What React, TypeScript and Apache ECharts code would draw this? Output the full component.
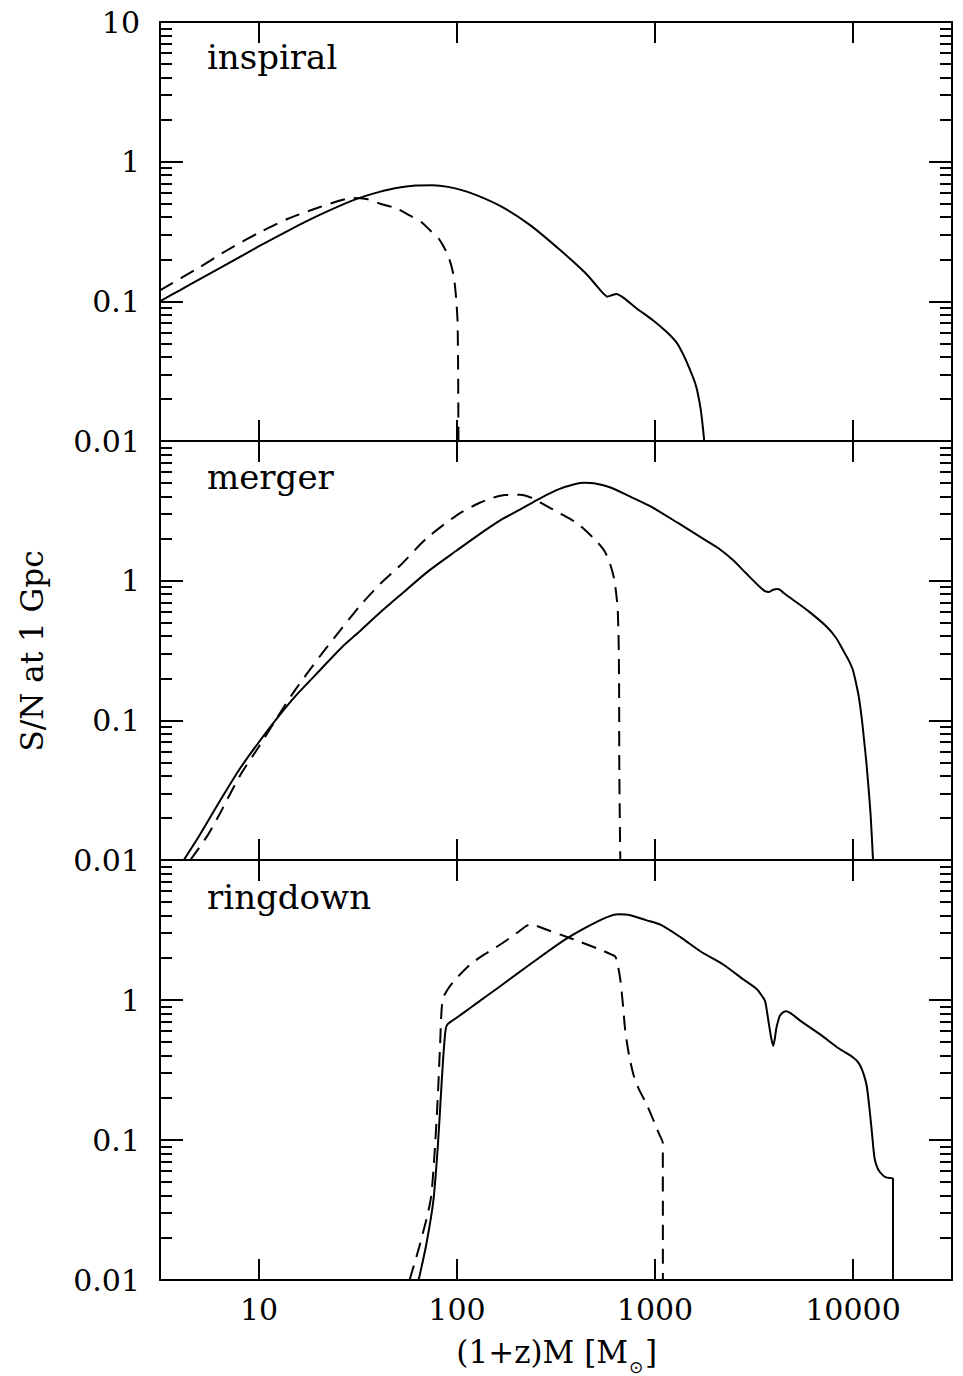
import { useEffect, useRef } from 'react';
import * as echarts from 'echarts';

// ---- axis ranges & tick labels ----
const X_MIN = 3.1623;
const X_MAX = 31623;
const Y_MIN = 0.01;
const Y_MAX = 10;
const xTickLabels = ['10', '100', '1000', '10000'];
const yTickLabels = ['0.01', '0.1', '1', '10'];
const panelNames = ['inspiral', 'merger', 'ringdown'];
const xTitleParts = ['(1+z)M [M', '\u2299', ']'];
const yTitle = 'S/N at 1 Gpc';

// ---- inspiral ----
const inspiralSolidM = [3.16, 4, 5, 7, 10, 14, 20, 30, 41, 52, 62, 75, 90, 116, 166, 235, 333, 444, 510, 548, 575, 600, 638, 700, 800, 980, 1150, 1294, 1420, 1506, 1580, 1633, 1700, 1740, 1773];
const inspiralSolidSN = [0.1, 0.1205, 0.1435, 0.187, 0.248, 0.32, 0.412, 0.53, 0.61, 0.655, 0.675, 0.678, 0.66, 0.6, 0.48, 0.35, 0.232, 0.16, 0.128, 0.114, 0.108, 0.11, 0.113, 0.105, 0.09, 0.073, 0.06, 0.05, 0.039, 0.032, 0.027, 0.023, 0.017, 0.013, 0.01];
const inspiralDashM = [3.16, 5, 7, 10, 14, 20, 26, 30, 35, 41, 50, 58, 66, 73.5, 81, 87.4, 91.5, 94.9, 97, 98.2, 99.5, 100.6, 101.2, 101.5, 101.7];
const inspiralDashSN = [0.12, 0.175, 0.235, 0.31, 0.39, 0.47, 0.53, 0.55, 0.54, 0.5, 0.46, 0.41, 0.37, 0.32, 0.28, 0.233, 0.2, 0.167, 0.14, 0.12, 0.095, 0.073, 0.04, 0.02, 0.01];

// ---- merger ----
const mergerSolidM = [4.17, 5, 6.4, 8, 10, 12.1, 15, 20.4, 26, 32.6, 41, 51.8, 71.7, 100, 128, 166, 209, 263, 325, 396, 440, 500, 596, 750, 950, 1300, 1700, 2100, 2483, 2900, 3388, 3600, 3765, 3950, 4178, 4500, 4972, 6000, 7387, 8200, 8890, 9500, 9977, 10400, 10700, 11100, 11400, 11650, 12000, 12300, 12620];
const mergerSolidSN = [0.01, 0.015, 0.027, 0.045, 0.07, 0.1, 0.145, 0.23, 0.33, 0.44, 0.593, 0.79, 1.17, 1.65, 2.12, 2.71, 3.24, 3.89, 4.5, 4.92, 5.02, 4.97, 4.65, 4.0, 3.4, 2.6, 2.05, 1.7, 1.4, 1.12, 0.9, 0.84, 0.83, 0.86, 0.87, 0.81, 0.73, 0.6, 0.466, 0.39, 0.32, 0.27, 0.23, 0.18, 0.147, 0.1, 0.07, 0.052, 0.032, 0.02, 0.01];
const mergerDashM = [4.5, 5.5, 6.4, 8, 10, 12.1, 15, 20.4, 26, 32.6, 41, 51.8, 70, 100, 128, 150, 176, 209, 240, 263, 333, 400, 446, 500, 529, 560, 596, 620, 631, 647, 653, 656, 659, 660, 664, 668];
const mergerDashSN = [0.01, 0.015, 0.022, 0.04, 0.065, 0.1, 0.16, 0.29, 0.45, 0.67, 0.95, 1.29, 2.0, 2.95, 3.57, 3.9, 4.1, 4.12, 3.9, 3.63, 3.02, 2.6, 2.29, 1.95, 1.79, 1.6, 1.29, 1.05, 0.9, 0.65, 0.45, 0.33, 0.15, 0.05, 0.02, 0.01];

// ---- ringdown ----
const ringSolidM = [64, 70, 76, 80, 82.6, 85, 87.5, 89.5, 100, 117, 140, 166, 200, 234, 280, 333, 390, 444, 520, 582, 650, 750, 900, 1065, 1350, 1700, 2200, 2800, 3280, 3500, 3600, 3733, 3850, 3953, 4020, 4093, 4200, 4290, 4590, 5500, 6800, 8500, 9980, 10600, 11090, 11450, 11750, 12100, 12470, 12700, 12900, 13300, 13680, 14660, 15920, 15921];
const ringSolidSN = [0.01, 0.018, 0.037, 0.09, 0.19, 0.37, 0.61, 0.67, 0.75, 0.88, 1.06, 1.26, 1.53, 1.8, 2.16, 2.57, 2.95, 3.27, 3.67, 3.94, 4.09, 4.03, 3.72, 3.45, 2.8, 2.22, 1.8, 1.4, 1.19, 1.05, 0.98, 0.72, 0.55, 0.47, 0.52, 0.62, 0.72, 0.78, 0.83, 0.7, 0.57, 0.45, 0.39, 0.36, 0.32, 0.28, 0.24, 0.17, 0.112, 0.085, 0.072, 0.063, 0.059, 0.054, 0.053, 0.01];
const ringDashM = [57.6, 65, 73.5, 77, 79.8, 82, 84.5, 90, 98, 117, 140, 166, 200, 235, 280, 333, 420, 529, 600, 631, 650, 668, 690, 707, 740, 780, 830, 890, 950, 1000, 1050, 1095, 1096];
const ringDashSN = [0.01, 0.018, 0.037, 0.08, 0.19, 0.45, 1.0, 1.2, 1.4, 1.8, 2.15, 2.5, 3.0, 3.47, 3.2, 2.93, 2.6, 2.29, 2.12, 2.04, 1.75, 1.4, 0.9, 0.61, 0.4, 0.29, 0.23, 0.19, 0.155, 0.13, 0.11, 0.095, 0.01];

const panels = [
  { solid: [inspiralSolidM, inspiralSolidSN], dash: [inspiralDashM, inspiralDashSN] },
  { solid: [mergerSolidM, mergerSolidSN], dash: [mergerDashM, mergerDashSN] },
  { solid: [ringSolidM, ringSolidSN], dash: [ringDashM, ringDashSN] },
];

const zip = (xs: number[], ys: number[]) => xs.map((x, i) => [x, ys[i]]);

const FONT = 'DejaVu Serif';
const BLACK = '#000';

const fmtX = (v: number) => {
  const l = Math.log10(v);
  const k = Math.round(l);
  if (Math.abs(l - k) > 1e-6) return '';
  return xTickLabels[k - 1] ?? '';
};
const fmtY = (v: number) => {
  const l = Math.log10(v);
  const k = Math.round(l);
  if (Math.abs(l - k) > 1e-6) return '';
  return yTickLabels[k + 2] ?? '';
};

function buildOption() {
  const gridPos = [
    { top: 22, height: 419 },
    { top: 441, height: 419 },
    { top: 860, height: 420 },
  ];
  const grid = gridPos.map((g) => ({ left: 160, right: 11, ...g }));
  const line = { color: BLACK, width: 2 };
  const xAxis: any[] = [];
  const yAxis: any[] = [];
  const series: any[] = [];
  panels.forEach((p, i) => {
    ['bottom', 'top'].forEach((pos) => {
      xAxis.push({
        type: 'log',
        gridIndex: i,
        position: pos,
        min: X_MIN,
        max: X_MAX,
        axisLine: { show: true, onZero: false, lineStyle: line },
        axisTick: { show: true, inside: true, length: 21, lineStyle: line },
        minorTick: { show: false },
        axisLabel: {
          show: i === 2 && pos === 'bottom',
          margin: 14,
          fontFamily: FONT,
          fontSize: 30,
          color: BLACK,
          formatter: fmtX,
          showMinLabel: false,
          showMaxLabel: false,
        },
        splitLine: { show: false },
      });
    });
    ['left', 'right'].forEach((pos) => {
      yAxis.push({
        type: 'log',
        gridIndex: i,
        position: pos,
        min: Y_MIN,
        max: Y_MAX,
        axisLine: { show: true, onZero: false, lineStyle: line },
        axisTick: { show: true, inside: true, length: 23, lineStyle: line },
        minorTick: { show: true, splitNumber: 9, length: 12, lineStyle: line },
        axisLabel: {
          show: pos === 'left',
          margin: 20,
          fontFamily: FONT,
          fontSize: 30,
          color: BLACK,
          formatter: fmtY,
          showMinLabel: true,
          showMaxLabel: i === 0,
        },
        splitLine: { show: false },
        minorSplitLine: { show: false },
      });
    });
    series.push({
      type: 'line',
      xAxisIndex: 2 * i,
      yAxisIndex: 2 * i,
      data: zip(p.solid[0], p.solid[1]),
      showSymbol: false,
      symbol: 'none',
      smooth: 0.25,
      lineStyle: { color: BLACK, width: 2, type: 'solid' },
      silent: true,
    });
    series.push({
      type: 'line',
      xAxisIndex: 2 * i,
      yAxisIndex: 2 * i,
      data: zip(p.dash[0], p.dash[1]),
      showSymbol: false,
      symbol: 'none',
      smooth: 0.25,
      lineStyle: { color: BLACK, width: 2, type: [15, 9] },
      silent: true,
    });
  });

  const labelY = [57, 477, 897];
  const graphic: any[] = panelNames.map((name, i) => ({
    type: 'text',
    x: 207,
    y: labelY[i],
    style: {
      text: name,
      fontFamily: FONT,
      fontSize: 34,
      fill: BLACK,
      align: 'left',
      verticalAlign: 'middle',
    },
  }));
  graphic.push({
    type: 'text',
    x: 32,
    y: 651,
    rotation: Math.PI / 2,
    style: {
      text: yTitle,
      fontFamily: FONT,
      fontSize: 31,
      fill: BLACK,
      align: 'center',
      verticalAlign: 'middle',
    },
  });
  // x-axis title: "(1+z)M [M" + subscript sun symbol + "]"
  graphic.push({
    type: 'text',
    x: 628,
    y: 1352,
    style: { text: xTitleParts[0], fontFamily: FONT, fontSize: 31, fill: BLACK, align: 'right', verticalAlign: 'middle' },
  });
  graphic.push({
    type: 'text',
    x: 629,
    y: 1367,
    style: { text: xTitleParts[1], fontFamily: 'DejaVu Sans', fontSize: 17, fill: BLACK, align: 'left', verticalAlign: 'middle' },
  });
  graphic.push({
    type: 'text',
    x: 645,
    y: 1352,
    style: { text: xTitleParts[2], fontFamily: FONT, fontSize: 31, fill: BLACK, align: 'left', verticalAlign: 'middle' },
  });

  return {
    animation: false,
    backgroundColor: '#fff',
    grid,
    xAxis,
    yAxis,
    series,
    graphic,
  };
}

export default function App() {
  const ref = useRef<HTMLDivElement>(null);
  useEffect(() => {
    if (!ref.current) return;
    const chart = echarts.init(ref.current, undefined, { renderer: 'svg' });
    chart.setOption(buildOption() as any);
    return () => chart.dispose();
  }, []);
  return (
    <div
      ref={ref}
      style={{ position: 'fixed', left: 0, top: 0, width: 963, height: 1376, background: '#fff' }}
    />
  );
}
